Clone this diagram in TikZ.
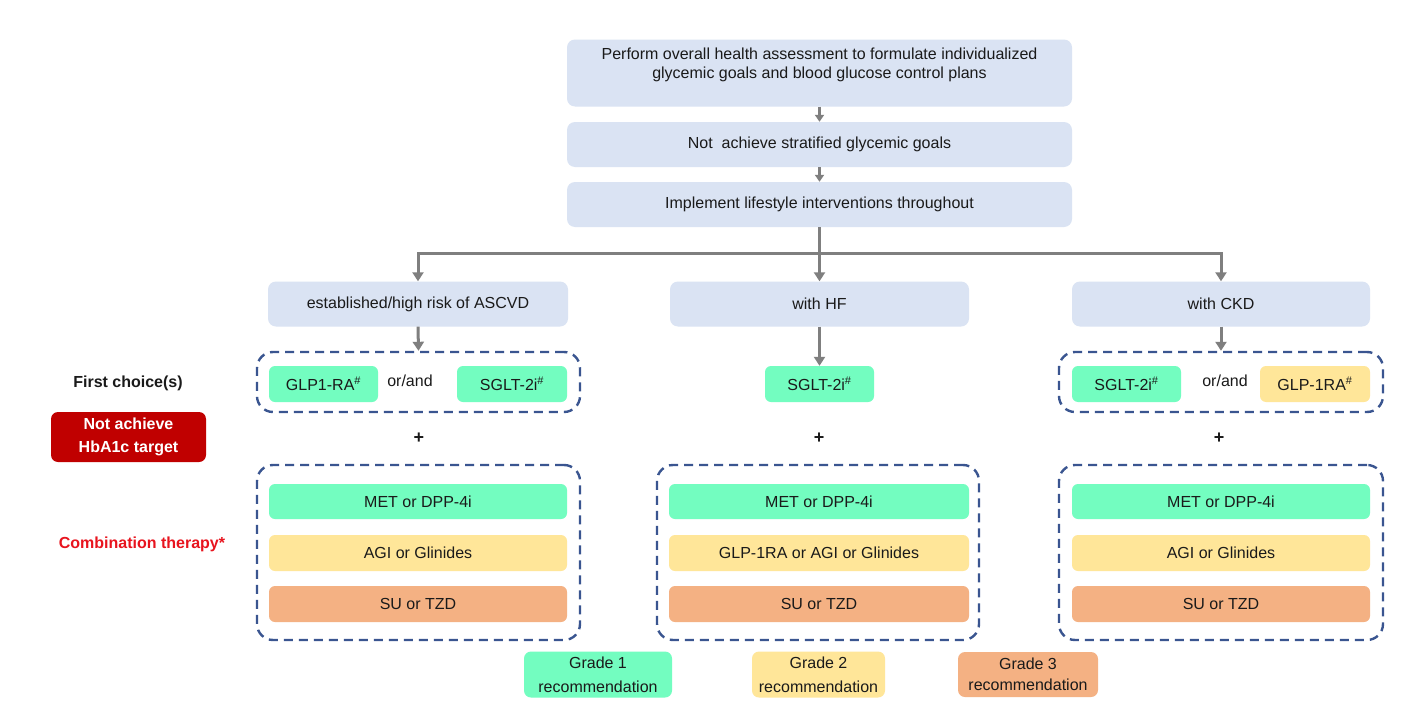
\documentclass[tikz,border=0pt]{standalone}
\usepackage{fontspec}
\setmainfont{Liberation Sans}
\usetikzlibrary{arrows.meta}
\definecolor{lblue}{HTML}{DAE3F3}
\definecolor{grn}{HTML}{73FDC0}
\definecolor{ylw}{HTML}{FFE699}
\definecolor{org}{HTML}{F4B183}
\definecolor{dred}{HTML}{C00000}
\definecolor{rtext}{HTML}{E8141E}
\definecolor{dashc}{HTML}{3A5590}
\definecolor{arr}{HTML}{7F7F7F}
\definecolor{txt}{HTML}{1A1A1A}
\newcommand{\shp}{\textsuperscript{\fontsize{11}{11}\selectfont\#}}
\begin{document}
\begin{tikzpicture}[
  x=1pt, y=-1pt,
  base/.style={font=\fontsize{16}{19}\selectfont, text=txt, inner sep=0pt, align=center},
  bluebox/.style={base, fill=lblue, rounded corners=8pt, minimum height=45pt},
  drug/.style={base, rounded corners=6pt, minimum height=36pt},
  dbox/.style={draw=dashc, line width=2.4pt, dash pattern=on 9pt off 6pt, rounded corners=16pt, inner sep=0pt},
  flow/.style={draw=arr, line width=3pt, -{Triangle[width=11pt,length=9pt]}},
  flowsmall/.style={draw=arr, line width=2.5pt, -{Triangle[width=9pt,length=7pt]}},
  gradebox/.style={base, rounded corners=7pt, minimum height=46pt, font=\fontsize{16}{24}\selectfont},
  plus/.style={base, font=\fontsize{18}{19}\selectfont\bfseries},
]
\useasboundingbox (0,0) rectangle (1417,720);
\fill[white] (0,0) rectangle (1417,720);

% top chain
\node[bluebox, minimum width=505pt, minimum height=67pt] (top) at (819.5,73) {};
\node[base] (toptext) at (819.5,65) {Perform overall health assessment to formulate individualized\\glycemic goals and blood glucose control plans};
\node[bluebox, minimum width=505pt] (b2) at (819.5,144.5) {Not\ \ achieve stratified glycemic goals};
\node[bluebox, minimum width=505pt] (b3) at (819.5,204.5) {Implement lifestyle interventions throughout};

% conditions
\node[bluebox, minimum width=300pt] (ascvd) at (418,304) {established/high risk of ASCVD};
\node[bluebox, minimum width=299pt] (hf) at (819.5,304) {with HF};
\node[bluebox, minimum width=298pt] (ckd) at (1221,304) {with CKD};

% first choice
\node[dbox, minimum width=323pt, minimum height=60pt] (fc1) at (418.5,382) {};
\node[drug, fill=grn, minimum width=109pt] (glp1) at (323.5,384) {GLP1-RA\shp};
\node[base] (orand1) at (410,381) {or/and};
\node[drug, fill=grn, minimum width=110pt] (sglt1) at (512,384) {SGLT-2i\shp};

\node[drug, fill=grn, minimum width=109pt] (sglthf) at (819.5,384) {SGLT-2i\shp};

\node[dbox, minimum width=324pt, minimum height=60pt] (fc3) at (1221,382) {};
\node[drug, fill=grn, minimum width=109pt] (sglt3) at (1126.5,384) {SGLT-2i\shp};
\node[base] (orand3) at (1225,381) {or/and};
\node[drug, fill=ylw, minimum width=110pt] (glp3) at (1315,384) {GLP-1RA\shp};

% plus signs
\node[plus] (p1) at (419,438) {+};
\node[plus] (p2) at (819,438) {+};
\node[plus] (p3) at (1219,438) {+};

% combination boxes
\node[dbox, minimum width=323pt, minimum height=175pt] (c1) at (418.5,552.5) {};
\node[dbox, minimum width=322pt, minimum height=175pt] (c2) at (818,552.5) {};
\node[dbox, minimum width=324pt, minimum height=175pt] (c3) at (1221,552.5) {};

\node[drug, fill=grn, minimum width=298pt, minimum height=35pt] (c1a) at (418,501.5) {MET or DPP-4i};
\node[drug, fill=ylw, minimum width=298pt] (c1b) at (418,553) {AGI or Glinides};
\node[drug, fill=org, minimum width=298pt] (c1c) at (418,604) {SU or TZD};

\node[drug, fill=grn, minimum width=300pt, minimum height=35pt] (c2a) at (819,501.5) {MET or DPP-4i};
\node[drug, fill=ylw, minimum width=300pt] (c2b) at (819,553) {GLP-1RA or AGI or Glinides};
\node[drug, fill=org, minimum width=300pt] (c2c) at (819,604) {SU or TZD};

\node[drug, fill=grn, minimum width=298pt, minimum height=35pt] (c3a) at (1221,501.5) {MET or DPP-4i};
\node[drug, fill=ylw, minimum width=298pt] (c3b) at (1221,553) {AGI or Glinides};
\node[drug, fill=org, minimum width=298pt] (c3c) at (1221,604) {SU or TZD};

% left labels
\node[base, font=\fontsize{16}{19}\selectfont\bfseries] (fclab) at (128,383) {First choice(s)};
\node[base, fill=dred, text=white, rounded corners=7pt, minimum width=155pt, minimum height=50pt, font=\fontsize{16}{23}\selectfont\bfseries] (notach) at (128.5,437) {Not achieve\\HbA1c target};
\node[base, text=rtext, font=\fontsize{16}{19}\selectfont\bfseries] (comb) at (142,544) {Combination therapy*};

% grades
\node[gradebox, fill=grn, minimum width=148pt] (g1) at (598,674.5) {Grade 1\\recommendation};
\node[gradebox, fill=ylw, minimum width=133pt] (g2) at (818.5,674.5) {Grade 2\\recommendation};
\node[gradebox, fill=org, minimum width=140pt, minimum height=45pt, font=\fontsize{16}{21}\selectfont] (g3) at (1028,674.5) {Grade 3\\recommendation};

% connectors
\draw[flowsmall] (top.south) -- (b2.north);
\draw[flowsmall] (b2.south) -- (b3.north);
\coordinate (j) at (819.5,253);
\draw[flow] (b3.south) -- (hf.north);
\draw[flow] (j) -- (ascvd.north |- j) -- (ascvd.north);
\draw[flow] (j) -- (ckd.north |- j) -- (ckd.north);
\draw[flow] (ascvd.south) -- (fc1.north);
\draw[flow] (hf.south) -- (sglthf.north);
\draw[flow] (ckd.south) -- (fc3.north);
\end{tikzpicture}
\end{document}
